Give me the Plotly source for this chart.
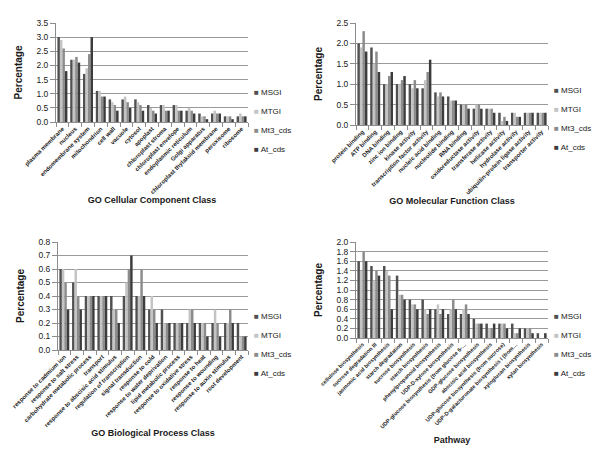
import plotly.graph_objects as go

series = ["MSGI", "MTGI", "Mt3_cds", "At_cds"]
colors = ["#505050", "#c4c4c4", "#8c8c8c", "#3c3c3c"]

cc_cats = ["plasma membrane", "nucleus", "endomembrane system", "mitochondrion", "cell wall",
           "vacuole", "cytosol", "apoplast", "chloroplast stroma", "chloroplast envelope",
           "endoplasmic reticulum", "Golgi apparatus", "chloroplast thylakoid membrane",
           "peroxisome", "ribosome"]
cc_msgi = [3.0, 2.2, 1.7, 1.1, 0.8, 0.8, 0.8, 0.6, 0.6, 0.6, 0.4, 0.3, 0.3, 0.2, 0.2]
cc_mtgi = [2.9, 2.2, 1.9, 1.1, 0.7, 0.9, 0.7, 0.5, 0.6, 0.6, 0.5, 0.2, 0.4, 0.2, 0.3]
cc_mt3 = [2.6, 2.3, 2.4, 0.9, 0.6, 0.7, 0.6, 0.4, 0.4, 0.4, 0.4, 0.2, 0.3, 0.2, 0.2]
cc_at = [1.8, 2.1, 3.0, 0.9, 0.4, 0.5, 0.4, 0.3, 0.4, 0.4, 0.3, 0.1, 0.3, 0.1, 0.2]

mf_cats = ["protein binding", "ATP binding", "DNA binding", "zinc ion binding", "kinase activity",
           "transcription factor activity", "nucleic acid binding", "nucleotide binding",
           "RNA binding", "oxidoreductase activity", "transferase activity", "helicase activity",
           "hydrolase activity", "ubiquitin-protein ligase activity", "transporter activity"]
mf_msgi = [2.0, 1.9, 1.0, 1.0, 1.0, 0.9, 0.8, 0.7, 0.5, 0.4, 0.4, 0.3, 0.3, 0.3, 0.3]
mf_mtgi = [1.9, 1.5, 1.0, 1.0, 0.9, 1.1, 0.7, 0.6, 0.5, 0.5, 0.4, 0.1, 0.3, 0.3, 0.3]
mf_mt3 = [2.3, 1.8, 1.2, 1.1, 1.1, 1.3, 0.8, 0.6, 0.5, 0.5, 0.4, 0.2, 0.2, 0.3, 0.3]
mf_at = [1.8, 1.3, 1.3, 1.2, 0.9, 1.6, 0.7, 0.6, 0.4, 0.4, 0.3, 0.1, 0.2, 0.3, 0.3]

bp_cats = ["response to cadmium ion", "response to salt stress", "carbohydrate metabolic process",
           "transport", "response to abscisic acid stimulus", "regulation of transcription",
           "signal transduction", "response to cold", "response to water deprivation",
           "lipid metabolic process", "response to oxidative stress", "response to heat",
           "response to wounding", "response to auxin stimulus", "root development"]
bp_msgi = [0.6, 0.5, 0.4, 0.4, 0.4, 0.4, 0.4, 0.3, 0.3, 0.2, 0.2, 0.2, 0.2, 0.2, 0.2]
bp_mtgi = [0.6, 0.6, 0.4, 0.4, 0.3, 0.5, 0.4, 0.4, 0.2, 0.2, 0.3, 0.2, 0.3, 0.2, 0.1]
bp_mt3 = [0.5, 0.4, 0.4, 0.4, 0.3, 0.6, 0.6, 0.3, 0.2, 0.2, 0.3, 0.2, 0.2, 0.3, 0.1]
bp_at = [0.3, 0.3, 0.4, 0.4, 0.2, 0.7, 0.4, 0.2, 0.2, 0.2, 0.2, 0.1, 0.1, 0.2, 0.1]

pw_cats = ["cellulose biosynthesis", "sucrose degradation III", "jasmonic acid biosynthesis",
           "starch degradation", "sucrose biosynthesis", "starch biosynthesis",
           "phenylpropanoid biosynthesis", "UDP-D-xylose biosynthesis",
           "UDP-glucose biosynthesis (from glucose 6-…", "GDP-glucose biosynthesis",
           "abscisic acid biosynthesis", "UDP-glucose biosynthesis (from sucrose)",
           "UDP-D-galacturonate biosynthesis I (from…", "xyloglucan biosynthesis",
           "xylan biosynthesis"]
pw_msgi = [1.6, 1.5, 1.5, 1.3, 0.8, 0.8, 0.6, 0.5, 0.5, 0.4, 0.3, 0.3, 0.3, 0.2, 0.1]
pw_mtgi = [1.4, 1.2, 1.4, 0.9, 0.7, 0.6, 0.7, 0.6, 0.6, 0.3, 0.2, 0.3, 0.1, 0.2, 0.0]
pw_mt3 = [1.8, 1.4, 1.3, 0.9, 0.7, 0.5, 0.5, 0.8, 0.7, 0.3, 0.2, 0.3, 0.1, 0.2, 0.0]
pw_at = [1.6, 1.3, 0.6, 0.8, 0.6, 0.6, 0.6, 0.6, 0.5, 0.3, 0.3, 0.2, 0.2, 0.1, 0.1]

panels = [
    dict(cats=cc_cats, vals=[cc_msgi, cc_mtgi, cc_mt3, cc_at], title="GO Cellular Component Class",
         ymax=3.5, dtick=0.5, xdom=[48, 240], ydom=[15, 114], leg_y=112, leg_x=206, lab=6.0, so=0),
    dict(cats=mf_cats, vals=[mf_msgi, mf_mtgi, mf_mt3, mf_at], title="GO Molecular Function Class",
         ymax=2.5, dtick=0.5, xdom=[348, 540], ydom=[15, 117], leg_y=110, leg_x=506, lab=6.0, so=0),
    dict(cats=bp_cats, vals=[bp_msgi, bp_mtgi, bp_mt3, bp_at], title="GO Biological Process Class",
         ymax=0.8, dtick=0.1, xdom=[50, 240], ydom=[234, 342], leg_y=336, leg_x=206, lab=6.0, so=0),
    dict(cats=pw_cats, vals=[pw_msgi, pw_mtgi, pw_mt3, pw_at], title="Pathway",
         ymax=2.0, dtick=0.2, xdom=[348, 540], ydom=[234, 330], leg_y=336, leg_x=506, lab=5.5, so=7),
]

W, H = 600, 450
FONT = "Liberation Sans, Arial, sans-serif"
NARROW = "Liberation Sans Narrow, Liberation Sans, Arial, sans-serif"

fig = go.Figure()
layout = dict(
    width=W, height=H, margin=dict(l=0, r=0, t=0, b=0),
    paper_bgcolor="white", plot_bgcolor="white",
    barmode="group", bargap=0.22, bargroupgap=0.0,
    font=dict(family=FONT, color="#222222"),
)

for i, p in enumerate(panels):
    n = "" if i == 0 else str(i + 1)
    xa, ya = "x" + n, "y" + n
    leg = "legend" + n
    for s, (name, col) in enumerate(zip(series, colors)):
        fig.add_trace(go.Bar(
            x=p["cats"], y=p["vals"][s], name=name, marker=dict(color=col, line=dict(width=0)),
            xaxis=xa, yaxis=ya, legendgroup=f"{i}-{name}", showlegend=False,
            hovertemplate="%{x}<br>" + name + ": %{y:.1f}%<extra></extra>",
        ))
    # legend entries: small coloured square glyph placed right before each series name
    for s, (name, col) in enumerate(zip(series, colors)):
        fig.add_trace(go.Scatter(
            x=[None], y=[None], mode="markers",
            name=f'<span style="color:{col}">■</span> {name}',
            marker=dict(symbol="square", size=6, color="rgba(0,0,0,0)",
                        line=dict(width=0, color="rgba(0,0,0,0)")),
            xaxis=xa, yaxis=ya, legend=leg, legendgroup=f"{i}-{name}", showlegend=True,
        ))
    layout["xaxis" + n] = dict(
        domain=[p["xdom"][0] / W, p["xdom"][1] / W], anchor=ya,
        type="category", tickangle=-45, tickson="boundaries",
        ticks="outside", ticklen=4, tickcolor="#8c8c8c",
        showline=True, linecolor="#8c8c8c", linewidth=1,
        tickfont=dict(size=p["lab"], family=NARROW, color="#1a1a1a", weight="bold"),
        title=dict(text=p["title"], font=dict(size=9, color="#1a1a1a", weight="bold"), standoff=p["so"]),
        automargin=False, fixedrange=True,
    )
    layout["yaxis" + n] = dict(
        domain=[1 - p["ydom"][1] / H, 1 - p["ydom"][0] / H], anchor=xa,
        range=[0, p["ymax"]], dtick=p["dtick"], tickformat=".1f",
        showgrid=True, gridcolor="#9a9a9a", gridwidth=1,
        showline=True, linecolor="#8c8c8c", linewidth=1,
        ticks="outside", ticklen=5, tickcolor="#8c8c8c",
        tickfont=dict(size=8.5, color="#1a1a1a"),
        title=dict(text="Percentage", font=dict(size=10, color="#1a1a1a", weight="bold"), standoff=11),
        zeroline=False, automargin=False, fixedrange=True,
    )
    layout[leg] = dict(
        x=p["leg_x"] / W, y=1 - p["leg_y"] / H, xanchor="left", yanchor="middle",
        bgcolor="rgba(0,0,0,0)", borderwidth=0, itemwidth=30,
        font=dict(size=8, color="#1a1a1a"), tracegroupgap=0,
    )

fig.update_layout(**layout)
fig.write_html("out.html")
